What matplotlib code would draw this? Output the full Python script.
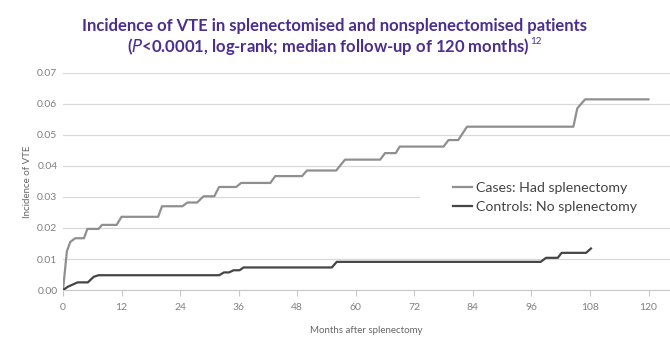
import matplotlib
matplotlib.use('Agg')
import matplotlib.pyplot as plt
from matplotlib.patches import Rectangle

# cumulative incidence (month, value)
months_cases = [0, 0.8, 1.5, 2.5, 4.3, 5.0, 7.3, 8.0, 11.0, 12.0, 19.5, 20.3,
                24.5, 25.5, 27.5, 28.8, 31.0, 32.0, 35.5, 36.5, 42.5, 43.5,
                49.0, 50.0, 56.0, 57.8, 65.0, 66.0, 68.2, 69.0, 78.0, 79.0,
                81.0, 82.8, 104.6, 105.4, 107.0, 120.0]
vte_cases = [0, 0.0125, 0.0155, 0.0167, 0.0167, 0.0197, 0.0197, 0.021, 0.021,
             0.0236, 0.0236, 0.027, 0.027, 0.0282, 0.0282, 0.0302, 0.0302,
             0.0332, 0.0332, 0.0345, 0.0345, 0.0367, 0.0367, 0.0385, 0.0385,
             0.042, 0.042, 0.0441, 0.0441, 0.0462, 0.0462, 0.0483, 0.0483,
             0.0526, 0.0526, 0.0585, 0.0614, 0.0614]

months_controls = [0, 1.0, 3.0, 5.1, 6.3, 7.3, 32.0, 33.0, 34.0, 35.0, 36.2,
                   37.0, 55.1, 56.1, 97.9, 99.0, 101.4, 102.2, 107.2, 108.2]
vte_controls = [0, 0.0011, 0.0025, 0.0025, 0.0043, 0.0048, 0.0048, 0.0057,
                0.0057, 0.0064, 0.0064, 0.0073, 0.0073, 0.0091, 0.0091,
                0.0104, 0.0104, 0.012, 0.012, 0.0134]

xticks = list(range(0, 121, 12))
yticks = [i / 100 for i in range(8)]

plt.rcParams['font.family'] = ['Lato', 'DejaVu Sans']

fig = plt.figure(figsize=(6.7, 3.56), dpi=100)
ax = fig.add_axes([0.094, 0.185, 0.906, 0.611])

ax.plot(months_cases, vte_cases, color='#8f8f8f', lw=1.6, zorder=3,
        label='Cases: Had splenectomy')
ax.plot(months_controls, vte_controls, color='#454545', lw=1.6, zorder=3,
        label='Controls: No splenectomy')

ax.set_xlim(0, 124.4)
ax.set_ylim(0, 0.07)
ax.set_xticks(xticks)
ax.set_yticks(yticks)
ax.set_yticklabels(['%.2f' % v for v in yticks])
ax.yaxis.grid(True, color='#d9d9d9', lw=0.9, zorder=0)
ax.set_axisbelow(True)

for s in ['top', 'right', 'left']:
    ax.spines[s].set_visible(False)
ax.spines['bottom'].set_color('#c8c8c8')
ax.tick_params(axis='x', colors='#c8c8c8', length=4, width=0.8,
               labelcolor='#808080', labelsize=7.5, pad=5)
ax.tick_params(axis='y', length=0, labelcolor='#808080', labelsize=7.5, pad=4)

ax.set_ylabel('Incidence of VTE', fontsize=7, color='#666666', labelpad=4)
ax.set_xlabel('Months after splenectomy', fontsize=7, color='#666666',
              labelpad=10)

# white box behind the legend hides part of the 0.03 grid line
ax.add_patch(Rectangle((73.2, 0.0262), 60, 0.0105, transform=ax.transData,
                       facecolor='white', edgecolor='none', zorder=1))

leg = ax.legend(loc='center left', bbox_to_anchor=(0.622, 0.426), frameon=False,
                fontsize=10.2, handlelength=1.3, handletextpad=0.3,
                labelspacing=0.45)
for t in leg.get_texts():
    t.set_color('#444444')

fig.text(0.5, 0.928, 'Incidence of VTE in splenectomised and nonsplenectomised patients',
         ha='center', va='center', fontsize=12, fontweight='bold', color='#4b2e8f')
sub = fig.text(0.49, 0.87, r'($\it{P}$<0.0001, log-rank; median follow-up of 120 months)',
               ha='center', va='center', fontsize=12, fontweight='bold', color='#4b2e8f')

# superscript reference number right after the closing bracket
fig.canvas.draw()
bb = sub.get_window_extent().transformed(fig.transFigure.inverted())
fig.text(bb.x1 + 0.0005, bb.y1 - 0.004, '12', ha='left', va='top',
         fontsize=7, color='#4b2e8f')

fig.savefig('out.png', dpi=100)
